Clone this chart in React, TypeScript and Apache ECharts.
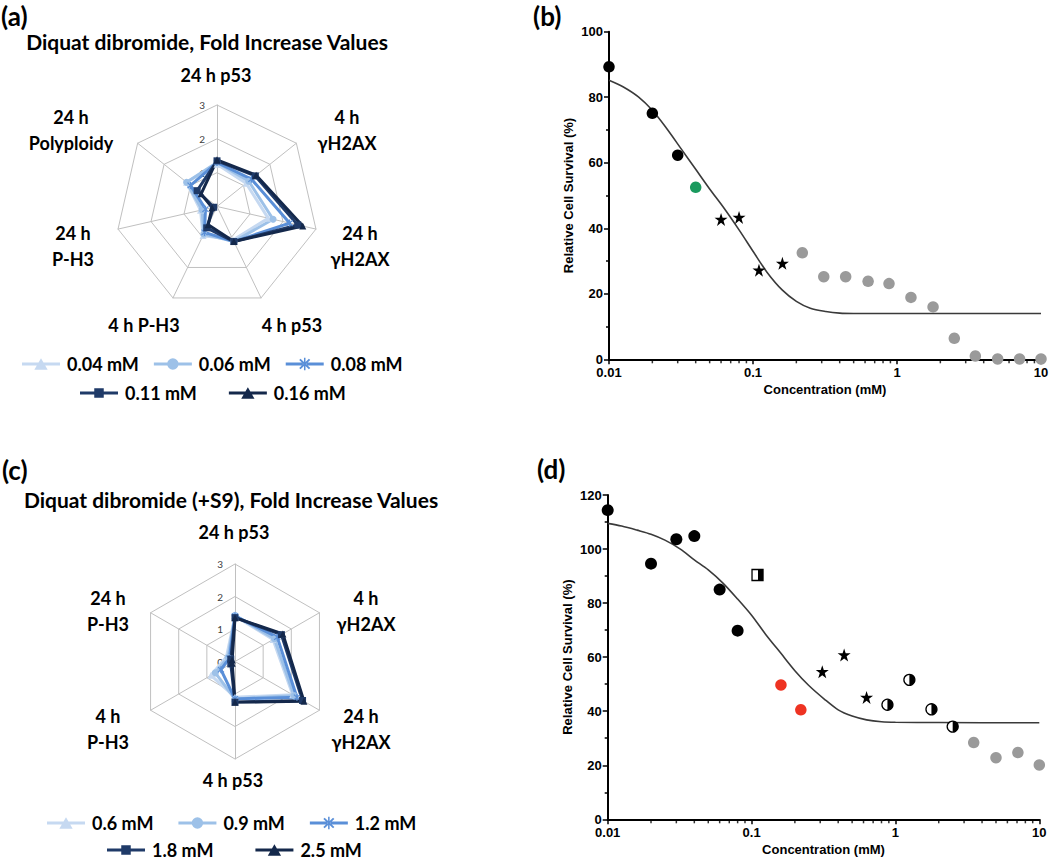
import React, { useEffect, useRef } from 'react';
import * as echarts from 'echarts';

// ---------- Radar (a) ----------
const radarAIndicators = ['24 h p53', '4 h γH2AX', '24 h γH2AX', '4 h p53', '4 h P-H3', '24 h P-H3', '24 h Polyploidy'];
const radarANames = ['0.04 mM', '0.06 mM', '0.08 mM', '0.11 mM', '0.16 mM'];
const radarA004 = [1.25, 1.1, 1.55, 1.1, 0.95, 0.5, 1.15];
const radarA006 = [1.3, 1.2, 1.7, 1.15, 0.9, 0.45, 1.15];
const radarA008 = [1.3, 1.3, 2.2, 1.15, 0.85, 0.35, 1.0];
const radarA011 = [1.35, 1.45, 2.45, 1.15, 0.7, 0.1, 0.75];
const radarA016 = [1.38, 1.48, 2.6, 1.15, 0.6, 0.15, 0.6];

// ---------- Radar (c) ----------
const radarCIndicators = ['24 h p53', '4 h γH2AX', '24 h γH2AX', '4 h p53', '4 h P-H3', '24 h P-H3'];
const radarCNames = ['0.6 mM', '0.9 mM', '1.2 mM', '1.8 mM', '2.5 mM'];
const radarC06 = [1.4, 1.35, 2.05, 1.1, 0.85, 0.3];
const radarC09 = [1.42, 1.4, 2.1, 1.15, 0.7, 0.25];
const radarC12 = [1.4, 1.5, 2.2, 1.15, 0.5, 0.2];
const radarC18 = [1.35, 1.65, 2.4, 1.25, 0.15, 0.15];
const radarC25 = [1.35, 1.7, 2.45, 1.25, 0.1, 0.1];

// ---------- Panel (b) ----------
const bBlack = [[0.01, 89.3], [0.02, 75.1], [0.03, 62.3]];
const bGreen = [[0.04, 52.5]];
const bStars = [[0.06, 42.7], [0.08, 43.3], [0.11, 27.2], [0.16, 29.3]];
const bGrey = [[0.22, 32.5], [0.31, 25.2], [0.44, 25.2], [0.63, 23.8], [0.88, 23.1], [1.25, 18.9], [1.78, 16], [2.5, 6.4], [3.5, 1], [5, 0.1], [7.1, 0.1], [10, 0.1]];
const bCurveX = [0.01, 0.0125, 0.016, 0.02, 0.025, 0.032, 0.04, 0.05, 0.063, 0.08, 0.1, 0.125, 0.16, 0.2, 0.25, 0.32, 0.4, 0.5, 1, 10];
const bCurveY = [85.2, 83.2, 80.1, 76, 70.6, 64, 58, 52, 46.1, 39.5, 33, 26.6, 21.1, 17.7, 15.6, 14.6, 14.1, 14, 14, 14];

// ---------- Panel (d) ----------
const dBlack = [[0.01, 114.4], [0.02, 94.6], [0.03, 103.6], [0.04, 104.8], [0.06, 85], [0.08, 69.8]];
const dHalfSquare = [[0.11, 90.4]];
const dRed = [[0.16, 49.7], [0.22, 40.5]];
const dStars = [[0.31, 54.6], [0.44, 60.8], [0.63, 45.1]];
const dHalfCircle = [[0.88, 42.4], [1.25, 51.6], [1.78, 40.7], [2.5, 34.3]];
const dGrey = [[3.5, 28.4], [5, 22.8], [7.1, 24.7], [10, 20.1]];
const dCurveX = [0.01, 0.0125, 0.016, 0.02, 0.025, 0.032, 0.04, 0.05, 0.063, 0.08, 0.1, 0.125, 0.16, 0.2, 0.25, 0.32, 0.4, 0.5, 0.63, 0.8, 1, 2, 10];
const dCurveY = [109.5, 108.5, 107, 105.5, 103.3, 100, 96, 92.3, 87.5, 81.5, 75.5, 68.5, 61.4, 55, 49.5, 44.5, 40.5, 38.2, 36.8, 36.1, 35.9, 35.8, 35.7];

// log-axis minor tick positions
const xMinorTicks = [0.02, 0.03, 0.04, 0.05, 0.06, 0.07, 0.08, 0.09, 0.2, 0.3, 0.4, 0.5, 0.6, 0.7, 0.8, 0.9, 2, 3, 4, 5, 6, 7, 8, 9];

const palette = ['#c6d9f1', '#9dc1e8', '#5a8fd8', '#1f3a68', '#14284b'];
const CAL = 'Lato, "Noto Sans", sans-serif';
const ARIAL = '"Liberation Sans", Arial, sans-serif';

const STAR = 'path://M50,0L61.8,35.4L100,35.4L69.1,57.3L80.9,95.1L50,72.4L19.1,95.1L30.9,57.3L0,35.4L38.2,35.4Z';
const ASTER = 'path://M4.2,0h1.6v10h-1.6z M0.6,1.7L1.7,0.6L9.4,8.3L8.3,9.4Z M8.3,0.6L9.4,1.7L1.7,9.4L0.6,8.3Z';
const radarSymbols = ['triangle', 'circle', ASTER, 'rect', 'triangle'];

const LINE = 'M0,5.5h18v3h-18z M22,5.5h18v3h-18z ';
const legendIcons = [
  'path://' + LINE + 'M20,1L27,13L13,13Z',
  'path://' + LINE + 'M26,7A6,6 0 1 1 14,7A6,6 0 1 1 26,7Z',
  'path://' + LINE + 'M19.2,0.5h1.6v13h-1.6z M14.2,2.8L15.6,1.4L25.8,11.2L24.4,12.6Z M24.4,1.4L25.8,2.8L15.6,12.6L14.2,11.2Z',
  'path://' + LINE + 'M15,2h10v10h-10z',
  'path://' + LINE + 'M20,1L27,13L13,13Z',
];

// ECharts lays radar indicators counter-clockwise; the reference runs clockwise.
const cw = (arr: any[]) => [arr[0], ...arr.slice(1).reverse()];

function radarComp(center: number[], radius: number, names: string[]) {
  return {
    center,
    radius,
    startAngle: 90,
    splitNumber: 3,
    shape: 'polygon',
    indicator: cw(names).map((n: string, i: number) => ({
      name: n,
      min: 0,
      max: 3,
      ...(i === 0
        ? { axisLabel: { show: true, color: '#404040', fontSize: 10, fontFamily: CAL, margin: 12 } }
        : {}),
    })),
    axisName: { show: false },
    splitLine: { lineStyle: { color: '#c0c0c0', width: 1 } },
    splitArea: { show: false },
    axisLine: { lineStyle: { color: '#c0c0c0', width: 1 } },
    axisTick: { show: false },
    axisLabel: { show: false },
  };
}

function radarSeries(radarIndex: number, names: string[], values: number[][]) {
  return names.map((n, i) => ({
    type: 'radar',
    name: n,
    radarIndex,
    symbol: radarSymbols[i],
    symbolSize: 7,
    lineStyle: { width: 3, color: palette[i] },
    itemStyle: { color: palette[i] },
    data: [{ name: n, value: cw(values[i]) }],
  }));
}

function txt(text: string, x: number, y: number, size: number, align = 'center', lh = 1.42) {
  return {
    type: 'text',
    x,
    y,
    silent: true,
    style: {
      text,
      fontSize: size,
      fontWeight: 'bold',
      fontFamily: CAL,
      fill: '#000',
      align,
      verticalAlign: 'middle',
      textAlign: align,
      textVerticalAlign: 'middle',
      lineHeight: Math.round(size * lh),
    },
  };
}

function legendComp(left: number, top: number, names: string[], offset: number, gap: number) {
  return {
    left,
    top,
    padding: 0,
    orient: 'horizontal',
    itemWidth: 38,
    itemHeight: 14,
    itemGap: gap,
    selectedMode: false,
    data: names.map((n, i) => ({ name: n, icon: legendIcons[i + offset] })),
    textStyle: { fontFamily: CAL, fontWeight: 'bold', fontSize: 18, lineHeight: 18, color: '#000', padding: [0, 0, 0, 2] },
  };
}

const axisCommonX = (gridIndex: number) => ({
  gridIndex,
  type: 'log',
  logBase: 10,
  min: 0.01,
  max: 10,
  name: 'Concentration (mM)',
  nameLocation: 'middle',
  nameGap: 24,
  nameTextStyle: { fontFamily: ARIAL, fontWeight: 'bold', fontSize: 13, color: '#000' },
  axisLine: { show: true, lineStyle: { color: '#000', width: 2 } },
  axisTick: { show: true, inside: false, length: 5, lineStyle: { color: '#000', width: 1.5 } },
  minorTick: { show: false },
  splitLine: { show: false },
  axisLabel: {
    color: '#000',
    fontFamily: ARIAL,
    fontWeight: 'bold',
    fontSize: 13,
    lineHeight: 13,
    margin: 7,
    formatter: (v: number) => String(parseFloat(Number(v).toPrecision(6))),
  },
});

const axisCommonY = (gridIndex: number, max: number) => ({
  gridIndex,
  type: 'value',
  min: 0,
  max,
  interval: 20,
  name: 'Relative Cell Survival (%)',
  nameLocation: 'middle',
  nameGap: 34,
  nameRotate: 90,
  nameTextStyle: { fontFamily: ARIAL, fontWeight: 'bold', fontSize: 13, color: '#000' },
  axisLine: { show: true, lineStyle: { color: '#000', width: 2 } },
  axisTick: { show: true, inside: false, length: 5, lineStyle: { color: '#000', width: 1.5 } },
  minorTick: { show: true, splitNumber: 2, length: 3, lineStyle: { color: '#000', width: 1.5 } },
  splitLine: { show: false },
  axisLabel: { color: '#000', fontFamily: ARIAL, fontWeight: 'bold', fontSize: 13, lineHeight: 12, margin: 6 },
});

function scatter(g: number, data: number[][], symbol: string, color: string, size: number, z = 5) {
  return {
    type: 'scatter',
    xAxisIndex: g,
    yAxisIndex: g,
    data,
    symbol,
    symbolSize: size,
    itemStyle: { color, opacity: 1 },
    clip: false,
    silent: true,
    z,
  };
}

function curve(g: number, xs: number[], ys: number[]) {
  return {
    type: 'line',
    xAxisIndex: g,
    yAxisIndex: g,
    data: xs.map((x, i) => [x, ys[i]]),
    smooth: 0.3,
    showSymbol: false,
    symbol: 'none',
    lineStyle: { color: '#3a3a3a', width: 1.6 },
    silent: true,
    z: 3,
  };
}

function minorTicks(g: number) {
  return {
    type: 'scatter',
    xAxisIndex: g,
    yAxisIndex: g,
    data: xMinorTicks.map((x) => [x, 0]),
    symbol: 'rect',
    symbolSize: [1.5, 3],
    symbolOffset: [0, 2.5],
    itemStyle: { color: '#000' },
    clip: false,
    silent: true,
    z: 2,
  };
}

function halfMarker(g: number, data: number[][], square: boolean) {
  return {
    type: 'custom',
    xAxisIndex: g,
    yAxisIndex: g,
    data,
    clip: false,
    silent: true,
    z: 6,
    renderItem: (_p: any, api: any) => {
      const pt = api.coord([api.value(0), api.value(1)]);
      const r = 5.5;
      if (square) {
        return {
          type: 'group',
          children: [
            { type: 'rect', shape: { x: pt[0] - r, y: pt[1] - r, width: 2 * r, height: 2 * r }, style: { fill: '#fff', stroke: '#000', lineWidth: 1.3 } },
            { type: 'rect', shape: { x: pt[0] + 0.5, y: pt[1] - r, width: r - 0.5, height: 2 * r }, style: { fill: '#000' } },
          ],
        };
      }
      return {
        type: 'group',
        children: [
          { type: 'circle', shape: { cx: pt[0], cy: pt[1], r }, style: { fill: '#fff', stroke: '#000', lineWidth: 1.3 } },
          { type: 'sector', shape: { cx: pt[0], cy: pt[1], r0: 0, r, startAngle: -Math.PI / 2, endAngle: Math.PI / 2, clockwise: true }, style: { fill: '#000' } },
        ],
      };
    },
  };
}

function buildOption() {
  const graphicEls = [
    txt('(a)', 1, 16, 26, 'left', 1),
    txt('(b)', 533, 16, 26, 'left', 1),
    txt('(c)', 2, 470, 26, 'left', 1),
    txt('(d)', 537, 469, 26, 'left', 1),
    txt('Diquat dibromide, Fold Increase Values', 207, 41, 21),
    txt('Diquat dibromide (+S9), Fold Increase Values', 231, 499, 21),
    // radar (a) labels
    txt('24 h p53', 216, 75, 18),
    txt('4 h\nγH2AX', 347, 130, 18),
    txt('24 h\nγH2AX', 360, 246, 18),
    txt('4 h p53', 292, 325, 18),
    txt('4 h P-H3', 144, 325, 18),
    txt('24 h\nP-H3', 73, 246, 18),
    txt('24 h\nPolyploidy', 71, 130, 18),
    // radar (c) labels
    txt('24 h p53', 234, 532, 18),
    txt('4 h\nγH2AX', 366, 611, 18),
    txt('24 h\nγH2AX', 361, 729, 18),
    txt('4 h p53', 233, 780, 18),
    txt('4 h\nP-H3', 108, 729, 18),
    txt('24 h\nP-H3', 108, 611, 18),
  ];

  return {
    animation: false,
    backgroundColor: '#fff',
    textStyle: { fontFamily: CAL },
    radar: [
      radarComp([217, 206.5], 101.5, radarAIndicators),
      radarComp([235, 661.5], 97.5, radarCIndicators),
    ],
    legend: [
      legendComp(22, 355, radarANames.slice(0, 3), 0, 15),
      legendComp(80, 384, radarANames.slice(3), 3, 32),
      legendComp(47, 814, radarCNames.slice(0, 3), 0, 25),
      legendComp(107, 841, radarCNames.slice(3), 3, 42),
    ],
    grid: [
      { left: 609, top: 31.7, width: 432, height: 327.6, containLabel: false, outerBoundsMode: 'none' },
      { left: 607.7, top: 495, width: 431.6, height: 324.3, containLabel: false, outerBoundsMode: 'none' },
    ],
    xAxis: [axisCommonX(0), axisCommonX(1)],
    yAxis: [axisCommonY(0, 100), axisCommonY(1, 120)],
    graphic: { elements: graphicEls },
    series: [
      ...radarSeries(0, radarANames, [radarA004, radarA006, radarA008, radarA011, radarA016]),
      ...radarSeries(1, radarCNames, [radarC06, radarC09, radarC12, radarC18, radarC25]),
      // panel (b)
      minorTicks(0),
      curve(0, bCurveX, bCurveY),
      scatter(0, bBlack, 'circle', '#000', 11.5),
      scatter(0, bGreen, 'circle', '#1a9a5e', 11.5),
      scatter(0, bStars, STAR, '#000', 13),
      scatter(0, bGrey, 'circle', '#9a9a9a', 11.5),
      // panel (d)
      minorTicks(1),
      curve(1, dCurveX, dCurveY),
      scatter(1, dBlack, 'circle', '#000', 12),
      halfMarker(1, dHalfSquare, true),
      scatter(1, dRed, 'circle', '#ee3322', 11.5),
      scatter(1, dStars, STAR, '#000', 13),
      halfMarker(1, dHalfCircle, false),
      scatter(1, dGrey, 'circle', '#9a9a9a', 11.5),
    ],
  };
}

export default function App() {
  const ref = useRef<HTMLDivElement>(null);
  useEffect(() => {
    const chart = echarts.init(ref.current as HTMLDivElement, null, { renderer: 'svg' });
    chart.setOption(buildOption() as any);
    return () => chart.dispose();
  }, []);
  return (
    <div
      ref={ref}
      style={{ position: 'absolute', left: 0, top: 0, width: 1050, height: 862, background: '#fff' }}
    />
  );
}
